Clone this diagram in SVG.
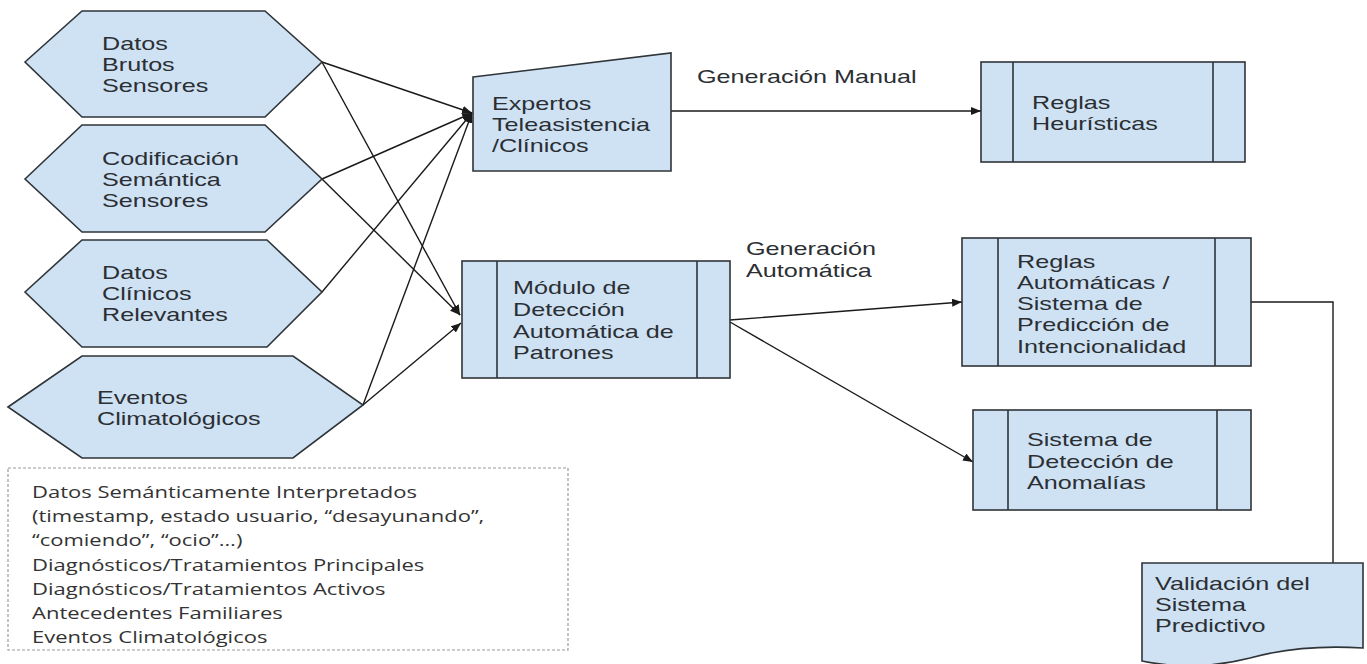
<svg xmlns="http://www.w3.org/2000/svg" width="1367" height="664" viewBox="0 0 1367 664">
<style>
.n{fill:#cfe2f3;stroke:#2f3438;stroke-width:1.6}
.l{fill:none;stroke:#2f3438;stroke-width:1.6}
.t{font-family:"Liberation Sans",Arial,sans-serif;font-size:18.5px;fill:#2b2f33}
.b{font-family:"Open Sans","Noto Sans",sans-serif;font-size:15.5px;fill:#333}
.c{fill:none;stroke:#1a1a1a;stroke-width:1.4}
</style>
<defs>
<marker id="ah" markerUnits="userSpaceOnUse" markerWidth="10" markerHeight="8" refX="10" refY="4" orient="auto">
<path d="M0,0 L10,4 L0,8 z" fill="#1a1a1a"/>
</marker>
</defs>
<rect width="1367" height="664" fill="#ffffff"/>

<g id="connectors">
<path class="c" d="M322,62 L472,113" marker-end="url(#ah)"/>
<path class="c" d="M322,62 L460,315" marker-end="url(#ah)"/>
<path class="c" d="M322,179 L472,113" marker-end="url(#ah)"/>
<path class="c" d="M322,179 L460,315" marker-end="url(#ah)"/>
<path class="c" d="M322,292 L472,113" marker-end="url(#ah)"/>
<path class="c" d="M363,405 L472,113" marker-end="url(#ah)"/>
<path class="c" d="M363,405 L461,323" marker-end="url(#ah)"/>
<path class="c" d="M671,111 L981,111" marker-end="url(#ah)"/>
<path class="c" d="M730,320 L962,302" marker-end="url(#ah)"/>
<path class="c" d="M730,322 L973,462" marker-end="url(#ah)"/>
<path class="c" d="M1251,302 H1333 V563"/>
</g>

<g id="hex-datos-brutos">
<polygon class="n" points="25,62 82,11 265,11 322,62 265,117 82,117"/>
<text class="t" transform="translate(102,50) scale(1.36,1)"><tspan x="0" y="0">Datos</tspan><tspan x="0" y="21">Brutos</tspan><tspan x="0" y="42">Sensores</tspan></text>
</g>

<g id="hex-codificacion">
<polygon class="n" points="25,179 82,125 265,125 322,179 265,232 82,232"/>
<text class="t" transform="translate(102,165) scale(1.36,1)"><tspan x="0" y="0">Codificación</tspan><tspan x="0" y="21">Semántica</tspan><tspan x="0" y="42">Sensores</tspan></text>
</g>

<g id="hex-datos-clinicos">
<polygon class="n" points="25,292 82,240 267,240 322,292 267,347 82,347"/>
<text class="t" transform="translate(102,279) scale(1.36,1)"><tspan x="0" y="0">Datos</tspan><tspan x="0" y="21">Clínicos</tspan><tspan x="0" y="42">Relevantes</tspan></text>
</g>

<g id="hex-eventos">
<polygon class="n" points="8,407 82,356 293,356 363,405 293,458 82,458"/>
<text class="t" transform="translate(97,404) scale(1.36,1)"><tspan x="0" y="0">Eventos</tspan><tspan x="0" y="21">Climatológicos</tspan></text>
</g>

<g id="expertos">
<polygon class="n" points="473,77 671,53 671,171 473,171"/>
<text class="t" transform="translate(492,110) scale(1.36,1)"><tspan x="0" y="0">Expertos</tspan><tspan x="0" y="21">Teleasistencia</tspan><tspan x="0" y="42">/Clínicos</tspan></text>
</g>

<g id="label-manual">
<text class="t" transform="translate(697,83) scale(1.36,1)">Generación Manual</text>
</g>

<g id="reglas-heuristicas">
<rect class="n" x="981" y="62" width="264" height="100"/>
<path class="l" d="M1013,62 V162 M1213,62 V162"/>
<text class="t" transform="translate(1032,109) scale(1.36,1)"><tspan x="0" y="0">Reglas</tspan><tspan x="0" y="21">Heurísticas</tspan></text>
</g>

<g id="modulo">
<rect class="n" x="462" y="261" width="268" height="117"/>
<path class="l" d="M497,261 V378 M697,261 V378"/>
<text class="t" transform="translate(513,294) scale(1.36,1)"><tspan x="0" y="0">Módulo de</tspan><tspan x="0" y="22">Detección</tspan><tspan x="0" y="44">Automática de</tspan><tspan x="0" y="65">Patrones</tspan></text>
</g>

<g id="label-automatica">
<text class="t" transform="translate(746,255) scale(1.36,1)"><tspan x="0" y="0">Generación</tspan><tspan x="0" y="22">Automática</tspan></text>
</g>

<g id="reglas-automaticas">
<rect class="n" x="962" y="238" width="289" height="128"/>
<path class="l" d="M998,238 V366 M1215,238 V366"/>
<text class="t" transform="translate(1017,268) scale(1.36,1)"><tspan x="0" y="0">Reglas</tspan><tspan x="0" y="21">Automáticas /</tspan><tspan x="0" y="42">Sistema de</tspan><tspan x="0" y="63">Predicción de</tspan><tspan x="0" y="85">Intencionalidad</tspan></text>
</g>

<g id="anomalias">
<rect class="n" x="973" y="410" width="278" height="100"/>
<path class="l" d="M1008,410 V510 M1217,410 V510"/>
<text class="t" transform="translate(1027,446) scale(1.36,1)"><tspan x="0" y="0">Sistema de</tspan><tspan x="0" y="22">Detección de</tspan><tspan x="0" y="43">Anomalías</tspan></text>
</g>

<g id="validacion">
<path class="n" d="M1142,563 H1363 V648 Q1300,644 1250,658 Q1195,672 1142,661 Z"/>
<text class="t" transform="translate(1155,590) scale(1.36,1)"><tspan x="0" y="0">Validación del</tspan><tspan x="0" y="21">Sistema</tspan><tspan x="0" y="42">Predictivo</tspan></text>
</g>

<g id="nota">
<rect x="8" y="468" width="560" height="182" fill="none" stroke="#9a9a9a" stroke-width="1.2" stroke-dasharray="3,2"/>
<text class="b" transform="translate(32,498) scale(1.42,1)"><tspan x="0" y="0">Datos Semánticamente Interpretados</tspan><tspan x="0" y="24">(timestamp, estado usuario, “desayunando”,</tspan><tspan x="0" y="48">“comiendo”, “ocio”…)</tspan><tspan x="0" y="73">Diagnósticos/Tratamientos Principales</tspan><tspan x="0" y="97">Diagnósticos/Tratamientos Activos</tspan><tspan x="0" y="121">Antecedentes Familiares</tspan><tspan x="0" y="145">Eventos Climatológicos</tspan></text>
</g>
</svg>
